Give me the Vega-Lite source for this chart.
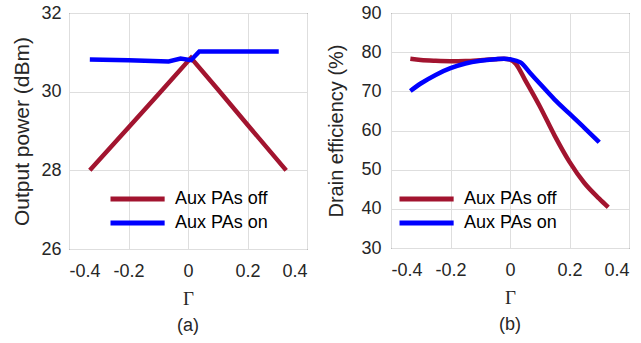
{
  "$schema": "https://vega.github.io/schema/vega-lite/v6.json",
  "padding": {"left": 11, "top": 3, "right": 0, "bottom": 0},
  "background": "white",
  "datasets": {
    "a": [
      {"g": -0.33, "v": 28.0, "s": "Aux PAs off"},
      {"g": -0.2, "v": 29.09, "s": "Aux PAs off"},
      {"g": -0.1, "v": 29.93, "s": "Aux PAs off"},
      {"g": 0.01, "v": 30.86, "s": "Aux PAs off"},
      {"g": 0.1, "v": 30.06, "s": "Aux PAs off"},
      {"g": 0.2, "v": 29.16, "s": "Aux PAs off"},
      {"g": 0.33, "v": 28.0, "s": "Aux PAs off"},
      {"g": -0.33, "v": 30.82, "s": "Aux PAs on"},
      {"g": -0.2, "v": 30.8, "s": "Aux PAs on"},
      {"g": -0.065, "v": 30.77, "s": "Aux PAs on"},
      {"g": -0.025, "v": 30.84, "s": "Aux PAs on"},
      {"g": 0.01, "v": 30.8, "s": "Aux PAs on"},
      {"g": 0.038, "v": 31.02, "s": "Aux PAs on"},
      {"g": 0.1, "v": 31.02, "s": "Aux PAs on"},
      {"g": 0.2, "v": 31.02, "s": "Aux PAs on"},
      {"g": 0.305, "v": 31.02, "s": "Aux PAs on"}
    ],
    "b": [
      {"g": -0.335, "v": 78.3, "s": "Aux PAs off"},
      {"g": -0.3, "v": 78.0, "s": "Aux PAs off"},
      {"g": -0.25, "v": 77.8, "s": "Aux PAs off"},
      {"g": -0.2, "v": 77.7, "s": "Aux PAs off"},
      {"g": -0.15, "v": 77.75, "s": "Aux PAs off"},
      {"g": -0.1, "v": 77.95, "s": "Aux PAs off"},
      {"g": -0.05, "v": 78.2, "s": "Aux PAs off"},
      {"g": -0.02, "v": 78.35, "s": "Aux PAs off"},
      {"g": 0.0, "v": 78.1, "s": "Aux PAs off"},
      {"g": 0.02, "v": 77.0, "s": "Aux PAs off"},
      {"g": 0.05, "v": 73.0, "s": "Aux PAs off"},
      {"g": 0.1, "v": 66.2, "s": "Aux PAs off"},
      {"g": 0.15, "v": 58.7, "s": "Aux PAs off"},
      {"g": 0.2, "v": 52.0, "s": "Aux PAs off"},
      {"g": 0.25, "v": 46.6, "s": "Aux PAs off"},
      {"g": 0.3, "v": 42.6, "s": "Aux PAs off"},
      {"g": 0.33, "v": 40.4, "s": "Aux PAs off"},
      {"g": -0.335, "v": 70.1, "s": "Aux PAs on"},
      {"g": -0.3, "v": 72.0, "s": "Aux PAs on"},
      {"g": -0.25, "v": 74.2, "s": "Aux PAs on"},
      {"g": -0.2, "v": 75.9, "s": "Aux PAs on"},
      {"g": -0.15, "v": 77.1, "s": "Aux PAs on"},
      {"g": -0.1, "v": 77.8, "s": "Aux PAs on"},
      {"g": -0.05, "v": 78.2, "s": "Aux PAs on"},
      {"g": -0.02, "v": 78.35, "s": "Aux PAs on"},
      {"g": 0.0, "v": 78.2, "s": "Aux PAs on"},
      {"g": 0.035, "v": 77.4, "s": "Aux PAs on"},
      {"g": 0.07, "v": 74.5, "s": "Aux PAs on"},
      {"g": 0.1, "v": 72.0, "s": "Aux PAs on"},
      {"g": 0.15, "v": 67.9, "s": "Aux PAs on"},
      {"g": 0.2, "v": 64.3, "s": "Aux PAs on"},
      {"g": 0.25, "v": 60.7, "s": "Aux PAs on"},
      {"g": 0.3, "v": 57.0, "s": "Aux PAs on"}
    ]
  },
  "config": {
    "font": "Liberation Sans",
    "view": {"stroke": "#262626", "strokeWidth": 1},
    "axis": {
      "domain": false,
      "ticks": false,
      "grid": true,
      "gridColor": "#dedede",
      "gridWidth": 1,
      "labelFont": "Liberation Sans",
      "labelFontSize": 18,
      "labelColor": "#262626",
      "titleFontWeight": "normal",
      "titleColor": "#262626"
    },
    "title": {"font": "Liberation Sans", "fontSize": 18, "fontWeight": "normal", "color": "#262626", "orient": "bottom", "offset": 9},
    "legend": {"labelFont": "Liberation Sans", "labelFontSize": 18, "labelColor": "#000000"}
  },
  "spacing": 18,
  "resolve": {"scale": {"color": "independent", "x": "independent", "y": "independent"}, "legend": {"color": "independent"}},
  "hconcat": [
    {
      "width": 238,
      "height": 236,
      "title": {"text": "(a)", "orient": "bottom"},
      "data": {"name": "a"},
      "mark": {"type": "line", "strokeWidth": 4.5, "interpolate": "linear"},
      "encoding": {
        "x": {"field": "g", "type": "quantitative",
          "scale": {"domain": [-0.4, 0.4], "nice": false, "zero": false},
          "axis": {"values": [-0.4, -0.2, 0, 0.2, 0.4], "labelExpr": "replace(format(datum.value, '.1~f'), '\u2212', '-')",
            "title": "Γ", "titleFont": "Liberation Serif", "titleFontSize": 19, "titlePadding": 9, "labelPadding": 13}},
        "y": {"field": "v", "type": "quantitative",
          "scale": {"domain": [26, 32], "nice": false, "zero": false},
          "axis": {"values": [26, 28, 30, 32], "title": "Output power (dBm)", "titleFontSize": 21, "labelPadding": 8, "titlePadding": 8}},
        "color": {"field": "s", "type": "nominal",
          "scale": {"domain": ["Aux PAs off", "Aux PAs on"], "range": ["#A2142F", "#0000FF"]},
          "legend": {"orient": "none", "legendX": 39, "legendY": 174, "title": null, "symbolType": "M-1,0H4.7", "symbolSize": 361, "symbolStrokeWidth": 5, "labelOffset": 43, "rowPadding": 2}}
      }
    },
    {
      "width": 238,
      "height": 235,
      "title": {"text": "(b)", "orient": "bottom"},
      "data": {"name": "b"},
      "mark": {"type": "line", "strokeWidth": 4.5, "interpolate": "monotone"},
      "encoding": {
        "x": {"field": "g", "type": "quantitative",
          "scale": {"domain": [-0.4, 0.4], "nice": false, "zero": false},
          "axis": {"values": [-0.4, -0.2, 0, 0.2, 0.4], "labelExpr": "replace(format(datum.value, '.1~f'), '\u2212', '-')",
            "title": "Γ", "titleFont": "Liberation Serif", "titleFontSize": 19, "titlePadding": 9, "labelPadding": 13}},
        "y": {"field": "v", "type": "quantitative",
          "scale": {"domain": [30, 90], "nice": false, "zero": false},
          "axis": {"values": [30, 40, 50, 60, 70, 80, 90], "title": "Drain efficiency (%)", "titleFontSize": 20, "labelPadding": 10, "titlePadding": 14}},
        "color": {"field": "s", "type": "nominal",
          "scale": {"domain": ["Aux PAs off", "Aux PAs on"], "range": ["#A2142F", "#0000FF"]},
          "legend": {"orient": "none", "legendX": 6, "legendY": 174, "title": null, "symbolType": "M-1,0H4.7", "symbolSize": 361, "symbolStrokeWidth": 5, "labelOffset": 43, "rowPadding": 2}}
      }
    }
  ]
}
